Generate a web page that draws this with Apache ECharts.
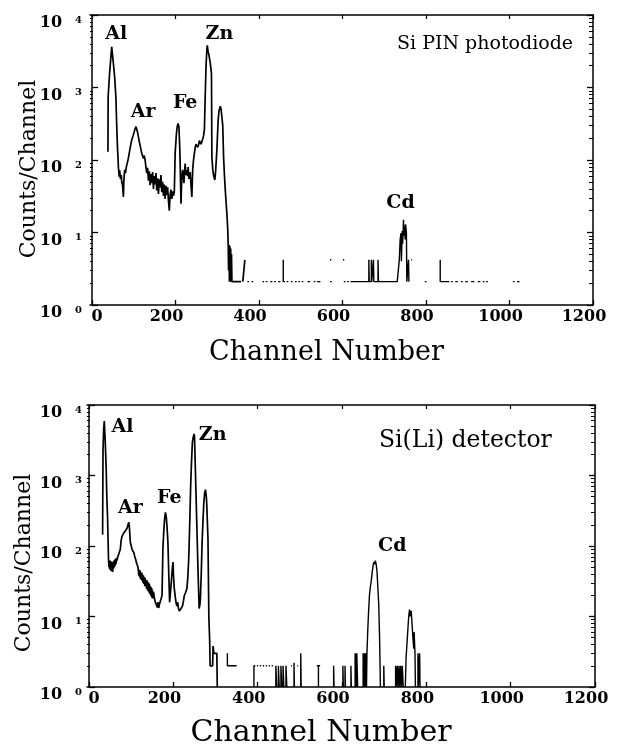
<!DOCTYPE html>
<html><head><meta charset="utf-8">
<script src="https://cdn.jsdelivr.net/npm/echarts@6/dist/echarts.min.js"></script>
<style>html,body{margin:0;padding:0;background:#fff}#c{width:621px;height:749px}</style>
</head><body><div id="c"></div>
<script>
const xTicks = [0, 200, 400, 600, 800, 1000, 1200];
const yMajor = [1, 10, 100, 1000, 10000];
const yMinor = [2,3,4,5,6,7,8,9,20,30,40,50,60,70,80,90,200,300,400,500,600,700,800,900,2000,3000,4000,5000,6000,7000,8000,9000];
const panelTitles = ['Si PIN photodiode', 'Si(Li) detector'];

const topPeakNames = ['Al', 'Ar', 'Fe', 'Zn', 'Cd'];
const topLabelAt = [[58, 5500], [122, 460], [223, 610], [305, 5500], [739, 25.6]];
const bottomPeakNames = ['Al', 'Ar', 'Fe', 'Zn', 'Cd'];
const bottomLabelAt = [[79, 4800], [98, 345], [190, 475], [293, 3740], [719, 100]];

const topPeaks = [
[38,130],[38.5,745],[42,1600],[45,2600],[47,3650],[49,2800],[51,2150],[54,1400],[57,745],[59,300],[61,140],[62,111],[63,80],[65,59],[66,72],[68,55],[70,62],[71,50],[73,45],[75,31],[76,50],[78,73],[80,66],[82,80],[84,89],[86,100],[88,115],[90,135],[92,155],[95,190],[98,215],[101,245],[103,270],[105,288],[107,265],[109,240],[111,209],[113,180],[115,160],[117,140],[119,124],[121,120],[123,105],[125,115],[127,100],[129,80],[131,66],[133,78],[135,52],[137,70],[139,45],[141,64],[143,48],[145,68],[147,40],[149,60],[151,46],[153,66],[155,38],[157,56],[159,34],[161,54],[163,42],[165,62],[167,36],[169,50],[171,32],[173,46],[175,29],[177,44],[179,33],[181,42],[183,27],[185,20],[187,33],[189,39],[191,29],[193,37],[195,32],[197,36],[199,124],[202,230],[204,290],[206,318],[208,290],[210,150],[211,89],[213,25],[215,60],[217,73],[219,55],[220,48],[222,75],[223,89],[225,62],[227,72],[229,60],[230,80],[232,55],[233,53],[235,68],[237,45],[239,31],[241,73],[243,100],[244,111],[246,135],[247,150],[249,165],[251,175],[253,150],[255,160],[257,185],[259,190],[261,165],[263,170],[265,195],[267,215],[269,260],[271,745],[273,2000],[275,3400],[276,3800],[278,3100],[280,2800],[283,2200],[286,1550],[287,111],[289,75],[291,62],[294,53],[296,70],[297,66],[299,140],[302,355],[304,470],[307,550],[309,505],[311,525],[313,300],[315,111],[317,62],[319,39],[321,26],[323,18],[325,11],[326,7.1],[327,3],[328,6.8],[329,2.1],[330,6.5],[331,2.1],[332,6],[333,2.1],[334,5],[335,2.1],[357,2.1],null,[361,2.1],[366,4.2]
];

const topTail = [
[372,2.1],[376,2.1],null,[382,2.1],[386,2.1],null,[408,2.1],[412,2.1],null,[416,2.1],[420,2.1],null,[427,2.1],[432,2.1],null,[436,2.1],[440,2.1],null,[446,2.1],[451,2.1],null,
[458,4.2],[458,2.1],[462,2.1],null,[466,2.1],[470,2.1],null,[476,2.1],[480,2.1],null,[486,2.1],[490,2.1],null,[494,2.1],[498,2.1],null,[502,2.1],[506,2.1],null,[516,2.1],[522,2.1],null,[531,2.1],[535,2.1],null,[539,2.1],[547,2.1],null,
[570,2.1],[574,2.1],null,[570,4.2],[573,4.2],null,[601,4.2],[604,4.2],null,[603,2.1],[607,2.1],null,[611,2.1],[615,2.1],null,[619,2.1],[658,2.1],
[663,2.1],[663,4.2],[664,2.1],[669,2.1],[669,4.2],[670,2.1],[674,2.1],[674,4.2],[675,2.1],[685,2.1],[685,4.2],[686,2.1],[731,2.1],[734,2.1],[736,4.2],[738,8],[740,9.8],[741,4],[743,10.5],[744,7],[746,15],[747,9],[749,12.5],[750,8],[751,13],[753,10],[754,2.1],[756,2.1],[758,4.2],[759,2.1],null,
[764,4.2],[766,4.2],null,[797,2.1],[801,2.1],null,[834,4.2],[834,2.1],[856,2.1],null,[860,2.1],[864,2.1],null,[870,2.1],[876,2.1],null,[884,2.1],[888,2.1],null,[894,2.1],[900,2.1],null,[908,2.1],[916,2.1],null,[924,2.1],[930,2.1],null,[936,2.1],[940,2.1],null,[944,2.1],[948,2.1],null,[1008,2.1],[1012,2.1],null,[1018,2.1],[1024,2.1]
];

const bottomPeaks = [
[32,145],[33,2300],[34.5,4500],[36,5900],[38,3300],[40.5,1270],[42,500],[43.7,260],[45,120],[46,66],[47,50],[48,60],[49,47],[50,62],[51,45],[52,58],[53,44],[54,60],[55,47],[56,43],[57,58],[58,48],[59,62],[60,50],[61,64],[62,53],[63,66],[64,56],[65,68],[66,62],[68,70],[70,66],[72,73],[74,90],[76,120],[78,137],[80,145],[82,152],[84,150],[86,165],[88,170],[90,178],[92,190],[94,218],[95,200],[96,170],[97,130],[98,111],[100,100],[102,89],[104,86],[106,81],[108,72],[110,66],[112,59],[114,54],[116,50],[117,48],[118,38],[119,46],[120,36],[121,45],[122,34],[123,42],[124,33],[125,42],[126,32],[127,39],[128,30],[129,38],[130,29],[131,36],[132,27],[133,35],[134,27],[135,33],[136,25],[137,33],[138,24],[139,31],[140,23],[141,30],[142,22],[143,29],[144,21],[145,27],[146,20],[147,26],[148,19],[149,25],[150,18],[151,23],[152,18],[153,22],[155,18],[157,16],[159,15],[161,15.4],[162,13.5],[163,16],[165,13.2],[167,15],[169,16],[171,18],[173,20],[175,89],[177,160],[179,240],[181,300],[183,260],[185,180],[187,111],[189,39],[191,16],[193,22],[195,31],[197,45],[199,59],[200,40],[202,25],[204,20],[206,16],[208,14],[210,16],[212,13],[214,12],[216,11.5],[218,12],[220,13.5],[222,14.5],[224,17],[226,20],[229,22],[232,25],[234,35],[236,60],[237,89],[239,250],[241,745],[243,1600],[245,2960],[247,3500],[249,3880],[250,3600],[252,1270],[255,260],[258,53],[261,13],[263,15],[264,18],[266,40],[268,111],[270,220],[272,400],[274,560],[276,630],[278,500],[279,400],[282,124],[284,10],[286,4.5],[287,2.0],[293,2.0],[294,3.8],[296,3.0],[303,3.0],[304,1]
];

const bottomTail = [
[328,3.0],[328,2.0],[350,2.0],null,
[391,1],[391,2],[394,2],null,[398,2],[401,2],null,[405,2],[408,2],null,[412,2],[415,2],null,[419,2],[422,2],null,[426,2],[429,2],null,[433,2],[436,2],null,
[443,1],[443,2],[445,2],[445,1],null,[449,1],[449,2],[451,2],[451,1],null,[455,1],[455,2],[457,2],[457,1],null,[460,1],[460,2],[462,2],[462,1],null,[467,1],[467,2],[469,2],[469,1],null,
[479,2],[481,2],null,[486,1],[486,2.2],[487,1],null,[494,2],[496,2],null,[502,1],[502,3],[503,1],null,[540,2],[548,2],null,[544,2],[544,1],null,
[580,1],[580,2],[581,1],null,[602,1],[602,2],[603,1],null,[607,1],[607,2],[608,1],null,[621,1],[621,2],[622,1],null,
[631,1],[631,3],[632,1],[633,3],[634,1],[635,3],[637,3],[637,1],null,
[650,1],[650,3],[652,1],[653,3],[655,1],[656,3],[658,1],[659,3],[660,3],[661,6.4],[663,12],[665,20],[667,26],[669,31],[672,45],[675,59],[677,55],[679,62],[681,55],[683,43],[685,25],[687,14.9],[689,5.1],[691,1],null,
[699,1],[699,2],[700,1],null,
[727,1],[727,2],[729,1],[731,2],[733,1],[735,2],[737,1],[739,2],[741,1],[743,2],[745,1],null,
[750,1],[752,2.7],[755,5.1],[757,8],[758,9.7],[760,12.5],[762,10],[764,12],[766,7.9],[768,5.1],[770,3.5],[771,6],[773,3],[774,1],null,
[780,1],[780,3],[781,1],[784,3],[785,1],null
];

const FONT = 'DejaVu Serif';
const BLACK = '#000';
const toData = arr => arr.map(p => p ? p : ['-', '-']);
const decade = v => Math.log10(v);

function xAxesFor(g, nameGap, nameSize, nameShift) {
  const line = {show: true, onZero: false, lineStyle: {color: BLACK, width: 1.5}};
  return [
    {gridIndex: g, type: 'value', min: -5, max: 1200, position: 'bottom',
     axisLine: line,
     axisTick: {show: true, inside: true, length: 5, customValues: xTicks, lineStyle: {color: BLACK, width: 1.3}},
     axisLabel: {show: true, customValues: xTicks, margin: 4,
       formatter: v => v === 0 ? '{z|0}' : '{n|' + v + '}',
       rich: {
         z: {fontFamily: FONT, fontWeight: 'bold', fontSize: 16, color: BLACK, padding: [0, 0, 0, 10]},
         n: {fontFamily: FONT, fontWeight: 'bold', fontSize: 16, color: BLACK, padding: [0, 18, 0, 0]}
       }},
     splitLine: {show: false},
     name: 'Channel Number', nameLocation: 'middle', nameGap: nameGap, nameMoveOverlap: false,
     nameTextStyle: {fontFamily: FONT, fontSize: nameSize, color: BLACK, padding: [0, nameShift, 0, 0]}},
    {gridIndex: g, type: 'value', min: -5, max: 1200, position: 'top',
     axisLine: line,
     axisTick: {show: true, inside: true, length: 4, customValues: xTicks, lineStyle: {color: BLACK, width: 1.2}},
     axisLabel: {show: false}, splitLine: {show: false}}
  ];
}

function yAxesFor(g, labelMargin, nameGap, nameShift) {
  // data axis (log) + decoration axes that only carry the tick marks (in decades)
  const deco = {gridIndex: g, type: 'value', min: 0, max: 4, splitLine: {show: false}, axisLabel: {show: false}};
  return [
    {gridIndex: g, type: 'log', logBase: 10, min: 1, max: 10000, splitLine: {show: false}, position: 'left',
      axisLine: {show: true, lineStyle: {color: BLACK, width: 1.5}},
      axisTick: {show: false},
      axisLabel: {show: true, customValues: yMajor, margin: labelMargin, verticalAlign: 'top',
        formatter: v => '{b|10}{e|' + Math.round(Math.log10(v)) + '}',
        rich: {
          b: {fontFamily: FONT, fontWeight: 'bold', fontSize: 16, color: BLACK, verticalAlign: 'bottom'},
          e: {fontFamily: FONT, fontWeight: 'bold', fontSize: 10, color: BLACK, verticalAlign: 'top', padding: [0, 0, 0, 13]}
        }},
      name: 'Counts/Channel', nameLocation: 'middle', nameGap: nameGap, nameRotate: 90, nameMoveOverlap: false,
      nameTextStyle: {fontFamily: FONT, fontSize: 22, color: BLACK, padding: [0, nameShift, 0, 0]}},
    Object.assign({}, deco, {position: 'left', axisLine: {show: false},
      axisTick: {show: true, inside: true, length: 6, customValues: yMajor.map(decade), lineStyle: {color: BLACK, width: 1.3}}}),
    Object.assign({}, deco, {position: 'left', axisLine: {show: false},
      axisTick: {show: true, inside: true, length: 3, customValues: yMinor.map(decade), lineStyle: {color: BLACK, width: 1}}}),
    Object.assign({}, deco, {position: 'right', axisLine: {show: true, lineStyle: {color: BLACK, width: 1.5}},
      axisTick: {show: true, inside: true, length: 6, customValues: yMajor.map(decade), lineStyle: {color: BLACK, width: 1.3}}}),
    Object.assign({}, deco, {position: 'right', axisLine: {show: false},
      axisTick: {show: true, inside: true, length: 4, customValues: yMinor.map(decade), lineStyle: {color: BLACK, width: 1}}})
  ];
}

function lineSeries(xi, yi, data, w) {
  return {type: 'line', xAxisIndex: xi, yAxisIndex: yi, data: toData(data), showSymbol: false, symbol: 'none',
    connectNulls: false, lineStyle: {color: BLACK, width: w}, silent: true, animation: false};
}
function labelSeries(xi, yi, names, at) {
  return {type: 'scatter', xAxisIndex: xi, yAxisIndex: yi, symbolSize: 1, silent: true, animation: false,
    itemStyle: {color: 'rgba(0,0,0,0)'},
    data: names.map((n, i) => ({name: n, value: at[i]})),
    label: {show: true, position: 'inside', formatter: '{b}', fontFamily: FONT, fontWeight: 'bold', fontSize: 19,
      color: BLACK, textBorderWidth: 0, opacity: 1}};
}

const chart = echarts.init(document.getElementById('c'), null, {renderer: 'canvas'});
chart.setOption({
  backgroundColor: '#fff',
  animation: false,
  title: [
    {text: panelTitles[0], left: 392, top: 30, textStyle: {fontFamily: FONT, fontWeight: 'normal', fontSize: 19, color: BLACK}},
    {text: panelTitles[1], left: 374, top: 424, textStyle: {fontFamily: FONT, fontWeight: 'normal', fontSize: 23.5, color: BLACK}}
  ],
  grid: [
    {left: 90, top: 15, width: 503, height: 290},
    {left: 87, top: 405, width: 508, height: 290}
  ],
  xAxis: xAxesFor(0, 34, 27, 30).concat(xAxesFor(1, 31, 30, 40)),
  yAxis: yAxesFor(0, 8, 50, 18).concat(yAxesFor(1, 5, 52, 34)),
  series: [
    lineSeries(0, 0, topPeaks, 1.7),
    lineSeries(0, 0, topTail, 1.4),
    labelSeries(0, 0, topPeakNames, topLabelAt),
    lineSeries(2, 5, bottomPeaks, 1.7),
    lineSeries(2, 5, bottomTail, 1.4),
    labelSeries(2, 5, bottomPeakNames, bottomLabelAt)
  ]
});
</script>
</body></html>
